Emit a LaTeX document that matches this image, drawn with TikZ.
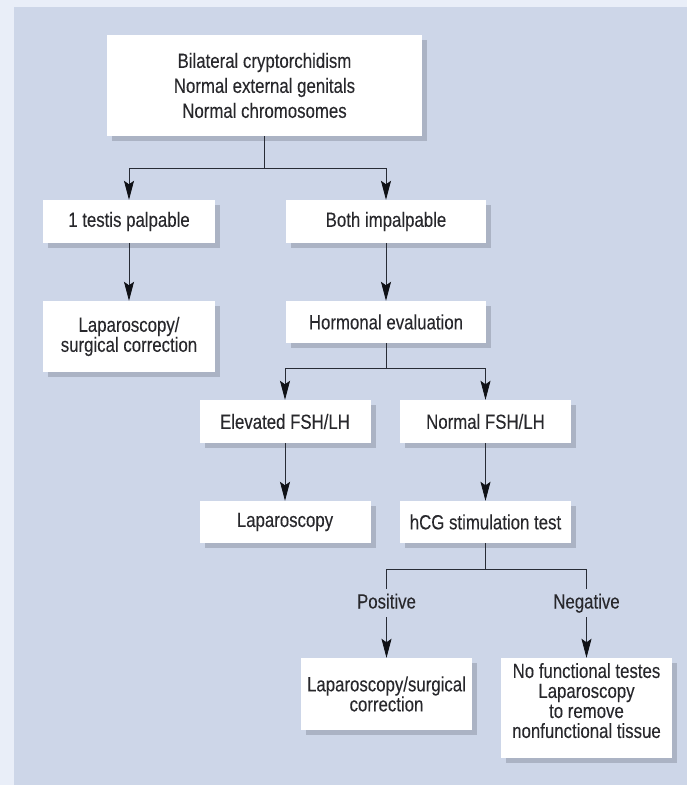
\documentclass[tikz,border=0pt]{standalone}
\usepackage{fontspec}
\setmainfont{Liberation Sans}[FakeStretch=0.82, FakeBold=0.1]
\usetikzlibrary{arrows.meta,shadows}
\definecolor{outerbg}{RGB}{233,238,248}
\definecolor{panel}{RGB}{205,214,232}
\definecolor{shade}{RGB}{168,176,193}
\definecolor{ink}{RGB}{40,44,54}
\definecolor{tip}{RGB}{15,17,22}
\definecolor{txt}{RGB}{40,40,44}
\begin{document}
\begin{tikzpicture}[x=1pt,y=-1pt,
  box/.style={fill=white, inner sep=0pt, align=center, text=txt,
    font=\fontsize{20.5}{20}\selectfont,
    drop shadow={shadow xshift=5pt, shadow yshift=-5pt, fill=shade, opacity=0.9}},
  conn/.style={draw=ink, line width=0.8pt},
  arr/.style={conn, -{Stealth[length=19pt, width=10pt, inset=3.5pt, color=tip]}},
  lbl/.style={text=txt, font=\fontsize{20.5}{20}\selectfont, text height=15pt, text depth=4pt, inner xsep=2pt, inner ysep=4.5pt}]
\useasboundingbox (0,0) rectangle (687,785);
\fill[outerbg] (0,0) rectangle (687,785);
\fill[panel] (14,7) rectangle (687,785);

\node[box, minimum width=315pt, minimum height=101pt, font=\fontsize{20.5}{25}\selectfont] (top) at (264.5,85.5)
  {Bilateral cryptorchidism\\Normal external genitals\\Normal chromosomes};
\node[box, minimum width=172pt, minimum height=43pt] (palp) at (129,221.5) {1 testis palpable};
\node[box, minimum width=200pt, minimum height=43pt] (both) at (386,221.5) {Both impalpable};
\node[box, minimum width=172pt, minimum height=71pt] (lapA) at (129,336.5) {Laparoscopy/\\surgical correction};
\node[box, minimum width=200pt, minimum height=42pt] (horm) at (386,322) {Hormonal evaluation};
\node[box, minimum width=171pt, minimum height=43pt] (elev) at (285,421.5) {Elevated FSH/LH};
\node[box, minimum width=171pt, minimum height=43pt] (norm) at (485.5,421.5) {Normal FSH/LH};
\node[box, minimum width=171pt, minimum height=42pt] (lapB) at (285,522) {Laparoscopy};
\node[box, minimum width=171pt, minimum height=42pt] (hcg) at (485.5,522) {hCG stimulation test};
\node[lbl] (pos) at (386.5,603) {Positive};
\node[lbl] (neg) at (586.5,603) {Negative};
\node[box, minimum width=171pt, minimum height=72pt] (lapC) at (386.5,694) {Laparoscopy/surgical\\correction};
\node[box, minimum width=171pt, minimum height=100pt] (nofn) at (586.5,708)
  {No functional testes\\Laparoscopy\\to remove\\nonfunctional tissue\rule[-15pt]{0pt}{0pt}};

% connectors
\draw[conn] (top.south) -- ++(0,32) coordinate (j1);
\draw[conn] (palp.north |- j1) -- (both.north |- j1);
\draw[arr] (palp.north |- j1) -- (palp.north);
\draw[arr] (both.north |- j1) -- (both.north);
\draw[arr] (palp.south) -- (lapA.north);
\draw[arr] (both.south) -- (horm.north);
\draw[conn] (horm.south) -- ++(0,25) coordinate (j2);
\draw[conn] (elev.north |- j2) -- (norm.north |- j2);
\draw[arr] (elev.north |- j2) -- (elev.north);
\draw[arr] (norm.north |- j2) -- (norm.north);
\draw[arr] (elev.south) -- (lapB.north);
\draw[arr] (norm.south) -- (hcg.north);
\draw[conn] (hcg.south) -- ++(0,26) coordinate (j3);
\draw[conn] (pos.north |- j3) -- (neg.north |- j3);
\draw[conn] (pos.north |- j3) -- (pos.north);
\draw[conn] (neg.north |- j3) -- (neg.north);
\draw[arr] (pos.south) -- (lapC.north);
\draw[arr] (neg.south) -- (nofn.north);
\end{tikzpicture}
\end{document}
